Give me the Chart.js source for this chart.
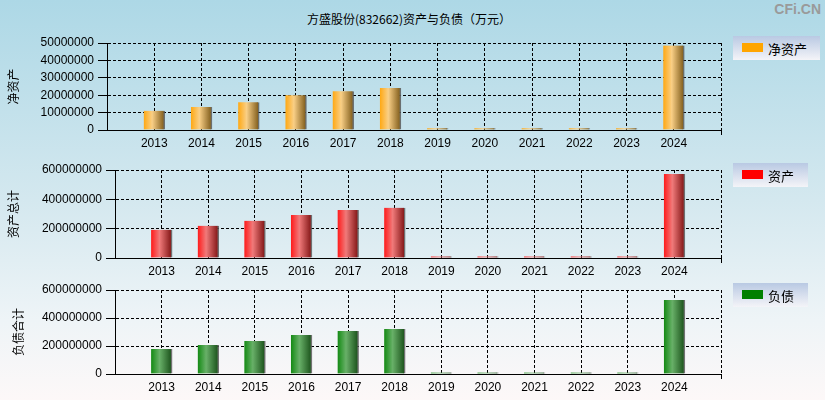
<!DOCTYPE html>
<html>
<head>
<meta charset="utf-8">
<script src="https://cdn.jsdelivr.net/npm/chart.js@4/dist/chart.umd.min.js"></script>
<style>
  html, body { margin: 0; padding: 0; }
  body {
    width: 825px; height: 400px; position: relative; overflow: hidden;
    background: linear-gradient(to bottom, #add8e6 0%, #d4e8ef 50%, #eef4f7 80%, #fdf8f8 100%);
    font-family: "Liberation Sans", Arial, sans-serif;
  }
  canvas { position: absolute; left: 0; }
  .title { position: absolute; top: 10px; left: 0; width: 818px; text-align: center;
    font: 12px "Noto Sans CJK SC", sans-serif; color: #000; }
  .logo { position: absolute; top: 1px; right: 4px; font: bold 14px "Liberation Sans", Arial, sans-serif; color: #9a9a9a; }
  .legend { position: absolute; left: 733px; height: 24px;
    background: linear-gradient(to bottom, #b9c9e3, #f4f4f8); }
  .legend i { position: absolute; left: 9px; top: 7px; width: 21px; height: 9px; }
  .legend span { position: absolute; left: 35px; top: 3px; font: 13px "Noto Sans CJK SC", sans-serif; color: #000; }
</style>
</head>
<body>
<div class="title">方盛股份(832662)资产与负债（万元）</div>
<div class="logo">CFi.CN</div>

<canvas id="c1" width="825" height="126" style="top:30px"></canvas>
<canvas id="c2" width="825" height="128" style="top:155px"></canvas>
<canvas id="c3" width="825" height="125" style="top:275px"></canvas>

<div class="legend" style="top:36px;width:87px"><i style="background:#ffa500"></i><span>净资产</span></div>
<div class="legend" style="top:163px;width:75px"><i style="background:#ff0000"></i><span>资产</span></div>
<div class="legend" style="top:283px;width:75px"><i style="background:#008000"></i><span>负债</span></div>

<script>
// Data
const years = ['', '2013', '2014', '2015', '2016', '2017', '2018', '2019', '2020', '2021', '2022', '2023', '2024', ''];
const netAssets = [null, 11000000, 13200000, 16000000, 20000000, 22300000, 24100000, 1000000, 1000000, 1000000, 1000000, 1000000, 48500000, null];
const totalAssets = [null, 192000000, 220000000, 254000000, 294000000, 328000000, 342000000, 11000000, 11000000, 11000000, 11000000, 11000000, 573000000, null];
const totalLiabilities = [null, 178000000, 207000000, 236000000, 278000000, 307000000, 321000000, 10000000, 10000000, 10000000, 10000000, 10000000, 528000000, null];
const netTicks = [0, 10000000, 20000000, 30000000, 40000000, 50000000];
const bigTicks = [0, 200000000, 400000000, 600000000];

// bar gradient, left -> light -> dark
function barGradient(stops) {
  return (c) => {
    const chart = c.chart;
    const xs = chart.scales && chart.scales.x;
    if (!xs || c.dataIndex === undefined) return stops[0];
    const cx = xs.getPixelForValue(c.dataIndex);
    if (!isFinite(cx)) return stops[0];
    const g = chart.ctx.createLinearGradient(cx - 10.5, 0, cx + 10.5, 0);
    g.addColorStop(0, stops[0]);
    g.addColorStop(0.4, stops[1]);
    g.addColorStop(1, stops[2]);
    return g;
  };
}

function makeChart(id, label, data, colors, maxV, yTicks, yTitle, opts) {
  const font = { family: '"Liberation Sans", Arial, sans-serif', size: 12 };
  return new Chart(document.getElementById(id), {
    type: 'bar',
    data: {
      labels: years,
      datasets: [{
        label: label,
        data: data,
        backgroundColor: barGradient(colors),
        borderColor: 'rgba(90,90,90,0.85)',
        borderWidth: { left: 0, top: 0, bottom: 0, right: 1.5 },
        borderSkipped: false,
        barThickness: 21
      }]
    },
    options: {
      responsive: false,
      animation: false,
      layout: { padding: { top: opts.padTop, right: 104, left: 0, bottom: 0 } },
      plugins: { legend: { display: false }, tooltip: { enabled: false } },
      scales: {
        x: {
          offset: false,
          grid: {
            offset: false,
            color: '#000',
            tickLength: 5,
            tickColor: (c) => c.index === years.length - 1 ? '#000' : 'rgba(0,0,0,0)'
          },
          border: { display: true, color: '#000', width: 1, dash: [3, 2] },
          ticks: { color: '#000', font: font, autoSkip: false, maxRotation: 0, padding: 1 },
          afterFit: (s) => { s.height = opts.xHeight; }
        },
        y: {
          min: 0,
          max: maxV,
          afterBuildTicks: (s) => { s.ticks = yTicks.map(v => ({ value: v })); },
          grid: { color: '#000', tickLength: 9, tickColor: '#000' },
          border: { display: true, color: '#000', width: 1, dash: [3, 2] },
          ticks: { color: '#000', font: font, padding: 4, callback: (v) => String(v) },
          title: {
            display: true, text: yTitle, color: '#000',
            font: { family: '"Noto Sans CJK SC", sans-serif', size: 12 },
            padding: { top: opts.titlePad, bottom: 0 }
          },
          afterFit: (s) => { s.width = opts.yWidth; }
        }
      }
    }
  });
}

makeChart('c1', '净资产', netAssets, ['#ffa812', '#f9cf86', '#7a5716'], 50000000, netTicks, '净资产',
  { padTop: 13, xHeight: 26, yWidth: 107, titlePad: 6 });
makeChart('c2', '资产', totalAssets, ['#ff1a1a', '#f07a7a', '#7c1010'], 600000000, bigTicks, '资产总计',
  { padTop: 15, xHeight: 25, yWidth: 115, titlePad: 6 });
makeChart('c3', '负债', totalLiabilities, ['#138a13', '#68b068', '#174d17'], 600000000, bigTicks, '负债合计',
  { padTop: 15, xHeight: 26, yWidth: 115, titlePad: 11 });
</script>
</body>
</html>
